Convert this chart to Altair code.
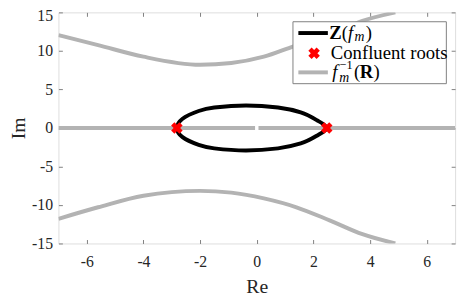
import altair as alt
import pandas as pd

# ---- data ----
top_re = [-7.0, -5.6, -4.0, -2.0, -0.9, 0.25, 1.3, 2.57, 3.73, 4.89]
top_im = [12.05, 10.75, 9.25, 8.2, 8.43, 9.25, 10.6, 12.1, 13.9, 15.0]
bot_re = [-7.0, -5.6, -4.0, -2.0, -0.9, 0.25, 1.4, 2.57, 3.73, 4.89]
bot_im = [-11.8, -10.3, -8.8, -8.17, -8.4, -9.15, -10.3, -12.0, -13.8, -15.0]
realline_left = [-7.0, -0.06]
realline_right = [0.06, 7.0]
ell_re = [-2.82, -2.62, -2.05, -1.5, -0.38, 0.75, 1.55, 2.1, 2.47,
          2.1, 1.55, 0.75, -0.38, -1.5, -2.05, -2.62]
ell_im = [0.0, 1.2, 2.2, 2.65, 2.92, 2.65, 2.02, 1.05, 0.0,
          -1.05, -2.02, -2.65, -2.92, -2.65, -2.2, -1.2]
root_re = [-2.82, 2.47]
root_im = [0.0, 0.0]
x_ticks = [-6, -4, -2, 0, 2, 4, 6]
y_ticks = [-15, -10, -5, 0, 5, 10, 15]

FONT = "Liberation Serif, Times New Roman, DejaVu Serif, serif"
GRAY = "#b3b3b3"
AX = "#808080"
TXT = "#262626"

branches = pd.DataFrame(
    [{"re": r, "im": i, "branch": "top", "idx": k} for k, (r, i) in enumerate(zip(top_re, top_im))]
    + [{"re": r, "im": i, "branch": "bot", "idx": k} for k, (r, i) in enumerate(zip(bot_re, bot_im))]
)
realdf = pd.DataFrame(
    [{"re": r, "im": 0.0, "seg": "a", "idx": k} for k, r in enumerate(realline_left)]
    + [{"re": r, "im": 0.0, "seg": "b", "idx": k} for k, r in enumerate(realline_right)]
)
elldf = pd.DataFrame({"re": ell_re, "im": ell_im, "idx": list(range(len(ell_re)))})
rootdf = pd.DataFrame({"re": root_re, "im": root_im})
dummy = pd.DataFrame({"k": [0]})

xs = alt.Scale(domain=[-7, 7], nice=False, zero=False)
ys = alt.Scale(domain=[-15, 15], nice=False, zero=False)

main_x = alt.Axis(values=x_ticks, title="Re", ticks=False, tickSize=0, domain=False, grid=False,
                  labelPadding=10, labelFont=FONT, labelFontSize=16, labelColor=TXT,
                  labelExpr="'' + datum.value",
                  titleFont=FONT, titleFontSize=20, titleFontWeight="normal", titleColor=TXT,
                  titlePadding=8)
main_y = alt.Axis(values=y_ticks, title="Im", ticks=False, tickSize=0, domain=False, grid=False,
                  labelPadding=6, labelFont=FONT, labelFontSize=16, labelColor=TXT,
                  labelExpr="'' + datum.value",
                  labelOffset={"condition": {"test": "datum.value == 15", "value": 3}, "value": 0},
                  titleFont=FONT, titleFontSize=20, titleFontWeight="normal", titleColor=TXT,
                  titlePadding=3)


def tick_axis(vals, orient):
    return alt.Axis(values=vals, orient=orient, offset=-4, ticks=True, tickSize=4, tickColor=AX,
                    tickWidth=1, labels=False, domain=False, grid=False, title="")


curves = alt.Chart(branches).mark_line(color=GRAY, strokeWidth=4, clip=True,
                                       interpolate="monotone").encode(
    x=alt.X("re:Q", scale=xs, axis=main_x),
    y=alt.Y("im:Q", scale=ys, axis=main_y),
    detail="branch:N",
    order="idx:Q",
)
real = alt.Chart(realdf).mark_line(color=GRAY, strokeWidth=4, clip=True).encode(
    x=alt.X("re:Q", scale=xs, axis=tick_axis(x_ticks, "bottom")),
    y=alt.Y("im:Q", scale=ys, axis=tick_axis(y_ticks, "left")),
    detail="seg:N",
    order="idx:Q",
)
ell = alt.Chart(elldf).mark_line(color="black", strokeWidth=4, interpolate="cardinal-closed").encode(
    x=alt.X("re:Q", scale=xs, axis=tick_axis(x_ticks, "top")),
    y=alt.Y("im:Q", scale=ys, axis=tick_axis(y_ticks, "right")),
    order="idx:Q",
)
roots = alt.Chart(rootdf).mark_point(shape="cross", angle=45, filled=True, color="red",
                                     size=140, opacity=1).encode(
    x=alt.X("re:Q", scale=xs, axis=None),
    y=alt.Y("im:Q", scale=ys, axis=None),
)

# ---- legend ----
box = alt.Chart(dummy).mark_rect(fill="white", stroke=AX, strokeWidth=1).encode(
    x=alt.value(238.5), x2=alt.value(394.5), y=alt.value(9.5), y2=alt.value(72.5))
leg1 = alt.Chart(dummy).mark_rule(color="black", strokeWidth=4).encode(
    x=alt.value(244), x2=alt.value(274), y=alt.value(21))
leg2 = alt.Chart(dummy).mark_point(shape="cross", angle=45, filled=True, color="red",
                                   size=140, opacity=1).encode(x=alt.value(260), y=alt.value(41.5))
leg3 = alt.Chart(dummy).mark_rule(color=GRAY, strokeWidth=4).encode(
    x=alt.value(244), x2=alt.value(274), y=alt.value(61))


def txt(s, x, y, size=19, style="normal", weight="normal"):
    return alt.Chart(dummy).mark_text(align="left", baseline="middle", font=FONT, fontSize=size,
                                      fontStyle=style, fontWeight=weight, color="black").encode(
        x=alt.value(x), y=alt.value(y), text=alt.value(s))


texts = [
    txt("Z", 275.5, 21, weight="bold"),
    txt("(", 288, 21),
    txt("f", 294.5, 21, style="italic"),
    txt("m", 301, 25, size=14, style="italic"),
    txt(")", 312.5, 21),
    txt("Confluent roots", 277, 41.5),
    txt("f", 278.5, 61, style="italic"),
    txt("\u22121", 286, 54, size=12.5),
    txt("m", 285.5, 67, size=14, style="italic"),
    txt("(", 300.5, 61),
    txt("R", 306.5, 61, weight="bold"),
    txt(")", 320.5, 61),
]

chart = alt.layer(curves, real, ell, roots, box, leg1, leg2, leg3, *texts).resolve_axis(
    x="independent", y="independent"
).properties(
    width=403.4, height=235,
    padding={"left": 51.3, "top": 2, "right": 6, "bottom": 54},
    autosize=alt.AutoSizeParams(type="none"),
).configure_view(stroke=AX, strokeWidth=1).configure(background="white")

chart.save("out.html", embed_options={"renderer": "svg", "actions": False})
